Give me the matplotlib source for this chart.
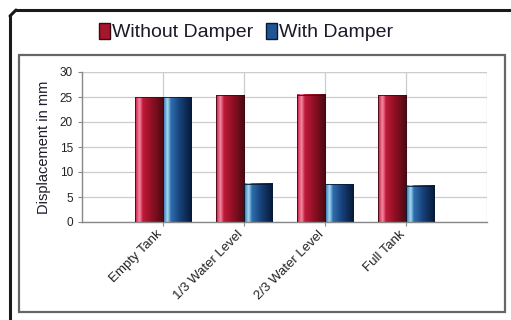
import numpy as np
import matplotlib
matplotlib.use('Agg')
import matplotlib.pyplot as plt
from matplotlib.colors import LinearSegmentedColormap
from matplotlib.patches import Rectangle
from matplotlib.lines import Line2D

plt.rcParams['font.family'] = ['Liberation Sans', 'DejaVu Sans']

# displacement readings for each tank condition
categories = ['Empty Tank', '1/3 Water Level', '2/3 Water Level', 'Full Tank']
without_damper = [25.0, 25.4, 25.5, 25.4]
with_damper = [25.0, 7.7, 7.6, 7.3]
series_names = ['Without Damper', 'With Damper']

# cylinder-like shading across each bar
red_cmap = LinearSegmentedColormap.from_list('red_tube', [
    (0.0, '#c8183c'), (0.15, '#f58aa4'), (0.27, '#c0193a'),
    (0.6, '#8c0f22'), (1.0, '#4a0a12')])
blue_cmap = LinearSegmentedColormap.from_list('blue_tube', [
    (0.0, '#2a6aa8'), (0.15, '#a8dcf4'), (0.27, '#2e6fae'),
    (0.6, '#173f78'), (1.0, '#061a38')])

fig = plt.figure(figsize=(5.11, 3.2), dpi=100)
fig.patch.set_facecolor('white')
W, H = 511.0, 320.0

# outer frame: left edge, bevelled corner, top edge (pixel units)
for (xa, ya), (xb, yb) in [((10, 0), (10, 304)), ((10, 304), (16, 310)),
                           ((16, 310), (W, 310))]:
    fig.add_artist(Line2D([xa / W, xb / W], [ya / H, yb / H],
                          transform=fig.transFigure, color='#1a1a1a',
                          linewidth=2.2, solid_capstyle='round'))
# inner gray frame
fig.add_artist(Rectangle((19 / W, 8 / H), 486 / W, 257 / H,
                         transform=fig.transFigure, fill=False,
                         edgecolor='#666666', linewidth=1.6))

ax = fig.add_axes([82 / W, 98 / H, 405 / W, 150 / H])
x = np.arange(1, len(categories) + 1)
width = 0.35

bars_a = ax.bar(x - width / 2, without_damper, width, color='none',
                edgecolor='#3a0a10', linewidth=0.6, zorder=3)
bars_b = ax.bar(x + width / 2, with_damper, width, color='none',
                edgecolor='#061a38', linewidth=0.6, zorder=3)

grad = np.linspace(0, 1, 64).reshape(1, -1)
for bars, cmap in ((bars_a, red_cmap), (bars_b, blue_cmap)):
    for p in bars:
        x0, y0 = p.get_x(), p.get_y()
        ax.imshow(grad, cmap=cmap, aspect='auto', zorder=2,
                  extent=(x0, x0 + p.get_width(), y0, y0 + p.get_height()),
                  interpolation='bilinear')

ax.set_xlim(0, 5)
ax.set_ylim(0, 30)
ax.set_yticks(range(0, 31, 5))
ax.set_xticks(x)
ax.set_xticklabels([])
# slanted category names, anchored just left of and below each tick
for xi, name in zip(x, categories):
    ax.annotate(name, xy=(xi, 0), xycoords=('data', 'axes fraction'),
                xytext=(-7, -6), textcoords='offset pixels',
                rotation=45, rotation_mode='anchor', ha='right', va='top',
                fontsize=9.5, color='#222222')
ax.tick_params(axis='y', labelsize=8.5, colors='#222222', length=3, width=0.8)
ax.tick_params(axis='x', length=3, width=0.8, color='#888888')
ax.set_ylabel('Displacement in mm', fontsize=10.5, color='#1a1a2a', labelpad=6)

ax.grid(axis='y', color='#cccccc', linewidth=0.9, zorder=0)
ax.grid(axis='x', color='#cccccc', linewidth=0.9, zorder=0)
ax.axvline(5, color='#cccccc', linewidth=0.9, zorder=0)
ax.axhline(30, color='#cccccc', linewidth=0.9, zorder=0)
for side in ('top', 'right'):
    ax.spines[side].set_visible(False)
for side in ('left', 'bottom'):
    ax.spines[side].set_color('#888888')
    ax.spines[side].set_linewidth(1.0)
ax.tick_params(axis='y', color='#888888')

# legend row above the plot
handles = [Rectangle((0, 0), 1, 1, facecolor='#a8152e', edgecolor='#3a0a10'),
           Rectangle((0, 0), 1, 1, facecolor='#1f5592', edgecolor='#061a38')]
fig.legend(handles, series_names, loc='center', bbox_to_anchor=(246 / W, 1 - 32 / H),
           ncol=2, frameon=False, fontsize=14, handlelength=0.55, handleheight=0.9,
           handletextpad=0.1, columnspacing=0.7, labelcolor='#1a1a2a')

fig.savefig('out.png', dpi=100)
